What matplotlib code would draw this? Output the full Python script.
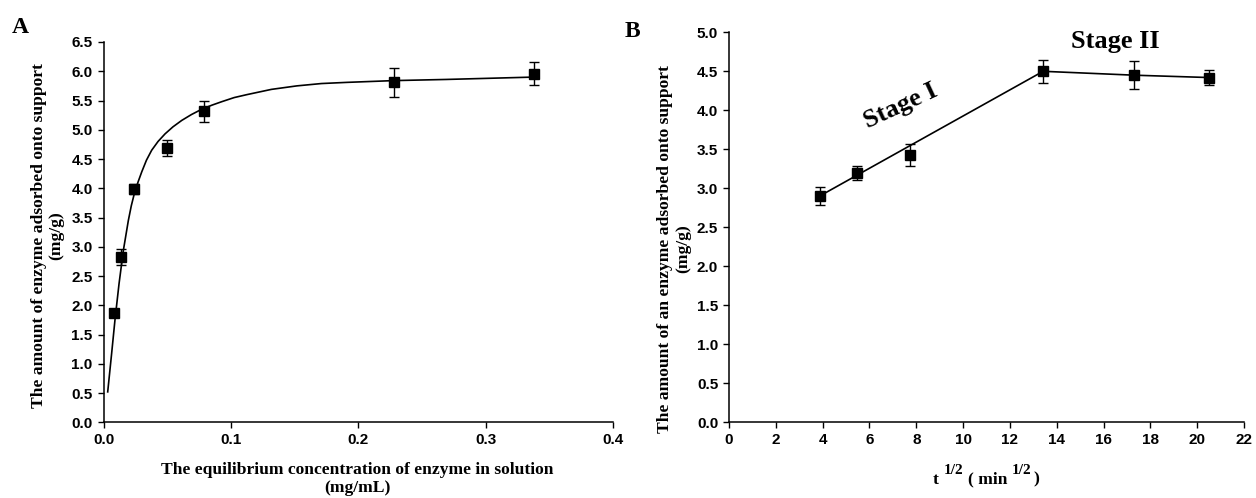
import matplotlib
matplotlib.use("Agg")
import matplotlib.pyplot as plt

# ---------------- Panel A data ----------------
a_x = [0.0085, 0.0137, 0.0242, 0.0496, 0.079, 0.228, 0.338]
a_y = [1.86, 2.82, 3.99, 4.69, 5.32, 5.81, 5.96]
a_err = [0.05, 0.14, 0.08, 0.14, 0.18, 0.25, 0.19]

# fitted curve
a_fit_x = [0.0033, 0.0064, 0.009, 0.0122, 0.0156, 0.0195, 0.0218, 0.0242, 0.0270,
           0.030, 0.0337, 0.0378, 0.0428, 0.0483, 0.0545, 0.0614, 0.069, 0.077,
           0.085, 0.0928, 0.1025, 0.1124, 0.1317, 0.1517, 0.171, 0.191,
           0.2275, 0.269, 0.337]
a_fit_y = [0.52, 1.18, 1.75, 2.37, 2.94, 3.45, 3.70, 3.91, 4.10,
           4.28, 4.48, 4.65, 4.80, 4.93, 5.05, 5.16, 5.26, 5.35,
           5.42, 5.48, 5.55, 5.60, 5.69, 5.75, 5.79, 5.81,
           5.84, 5.86, 5.90]

a_xticks = [0.0, 0.1, 0.2, 0.3, 0.4]
a_yticks = [0.0, 0.5, 1.0, 1.5, 2.0, 2.5, 3.0, 3.5, 4.0, 4.5, 5.0, 5.5, 6.0, 6.5]

# ---------------- Panel B data ----------------
b_x = [3.87, 5.48, 7.75, 13.42, 17.32, 20.5]
b_y = [2.90, 3.20, 3.43, 4.50, 4.45, 4.42]
b_err = [0.12, 0.09, 0.14, 0.15, 0.18, 0.10]

stage1_x = [3.87, 13.42]
stage1_y = [2.90, 4.50]
stage2_x = [13.42, 17.32, 20.5]
stage2_y = [4.50, 4.45, 4.42]

b_xticks = [0, 2, 4, 6, 8, 10, 12, 14, 16, 18, 20, 22]
b_yticks = [0.0, 0.5, 1.0, 1.5, 2.0, 2.5, 3.0, 3.5, 4.0, 4.5, 5.0]

W, H = 1256, 498
fig = plt.figure(figsize=(W / 100, H / 100), dpi=100)

def fx(px):
    return px / W

def fy(py):
    return 1 - py / H

axA = fig.add_axes([fx(103.5), fy(422.3), fx(613.3) - fx(103.5), fy(42) - fy(422.3)])
axB = fig.add_axes([fx(729), fy(422.3), fx(1244) - fx(729), fy(32.3) - fy(422.3)])

tick_font = dict(family='Liberation Sans', weight='bold', size=11)
serif = 'Liberation Serif'

def style(ax):
    for s in ['top', 'right']:
        ax.spines[s].set_visible(False)
    for s in ['left', 'bottom']:
        ax.spines[s].set_linewidth(1.1)
        ax.spines[s].set_color('black')
    ax.tick_params(direction='out', length=4.3, width=1.0, colors='black', pad=3.5)
    for lbl in ax.get_xticklabels() + ax.get_yticklabels():
        lbl.set_fontfamily(tick_font['family'])
        lbl.set_fontweight(tick_font['weight'])
        lbl.set_fontsize(tick_font['size'])

# Panel A
axA.plot(a_fit_x, a_fit_y, color='black', lw=1.2, zorder=2)
axA.errorbar(a_x, a_y, yerr=a_err, fmt='s', color='black', ms=6.5,
             capsize=3.5, elinewidth=1.0, capthick=1.0, zorder=3)
axA.set_xlim(0, 0.4)
axA.set_ylim(0, 6.5)
axA.set_xticks(a_xticks)
axA.set_xticklabels([f"{v:.1f}" for v in a_xticks])
axA.set_yticks(a_yticks)
axA.set_yticklabels([f"{v:.1f}" for v in a_yticks])
style(axA)

# Panel B
axB.plot(stage1_x, stage1_y, color='black', lw=1.2, zorder=2)
axB.plot(stage2_x, stage2_y, color='black', lw=1.2, zorder=2)
axB.errorbar(b_x, b_y, yerr=b_err, fmt='s', color='black', ms=6.5,
             capsize=3.5, elinewidth=1.0, capthick=1.0, zorder=3)
axB.set_xlim(0, 22)
axB.set_ylim(0, 5.0)
axB.set_xticks(b_xticks)
axB.set_xticklabels([str(v) for v in b_xticks])
axB.set_yticks(b_yticks)
axB.set_yticklabels([f"{v:.1f}" for v in b_yticks])
style(axB)

axB.text(7.35, 4.05, "Stage I", family=serif, weight='bold', fontsize=19,
         rotation=25, ha='center', va='center', rotation_mode='anchor')
axB.text(16.5, 4.88, "Stage II", family=serif, weight='bold', fontsize=19,
         ha='center', va='center')

# Labels
lab = dict(family=serif, weight='bold', fontsize=12.6)
fig.text(fx(47.5), fy(235.5), "The amount of enzyme adsorbed onto support\n(mg/g)",
         rotation=90, ha='center', va='center', multialignment='center',
         linespacing=1.15, **lab)
fig.text(fx(674), fy(249), "The amount of an enzyme adsorbed onto support\n(mg/g)",
         rotation=90, ha='center', va='center', multialignment='center',
         linespacing=1.15, **lab)
fig.text(fx(357), fy(479), "The equilibrium concentration of enzyme in solution\n(mg/mL)",
         ha='center', va='center', multialignment='center', linespacing=1.15, **lab)

# x label of panel B built from pieces (superscripts)
fig.text(fx(933), fy(483.5), "t", va='baseline', ha='left', **lab)
fig.text(fx(944), fy(474), "1/2", va='baseline', ha='left', family=serif,
         weight='bold', fontsize=11)
fig.text(fx(968), fy(483.5), "( min", va='baseline', ha='left', **lab)
fig.text(fx(1012), fy(474), "1/2", va='baseline', ha='left', family=serif,
         weight='bold', fontsize=11)
fig.text(fx(1033), fy(483.5), ")", va='baseline', ha='left', **lab)

fig.text(fx(12), fy(33), "A", family=serif, weight='bold', fontsize=17, va='baseline')
fig.text(fx(625), fy(37), "B", family=serif, weight='bold', fontsize=17, va='baseline')

fig.savefig("out.png", dpi=100)
